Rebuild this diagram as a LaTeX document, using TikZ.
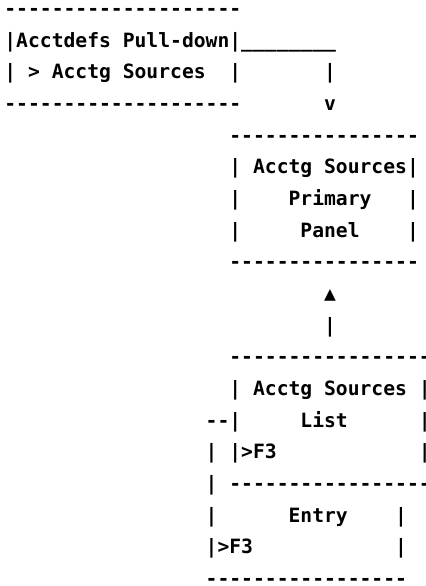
\documentclass[tikz,border=0pt]{standalone}
\usepackage{fontspec}
\setmonofont{DejaVu Sans Mono}
\tikzset{ascii/.style={anchor=base west, inner sep=0pt, font=\ttfamily\bfseries\fontsize{10pt}{12pt}\selectfont}}
\begin{document}
\begin{tikzpicture}[x=6.02pt, y=-16.1pt]
\useasboundingbox (-2.03pt,7.9pt) rectangle ++(216.1pt,-297.9pt);

\foreach \r/\c/\t [count=\i] in {
    0/0/{--------------------},
    1/0/{|Acctdefs Pull-down|}, 1/20/{\_\_\_\_\_\_\_\_},
    2/0/{| > Acctg Sources}, 2/19/{|}, 2/27/{|},
    3/0/{--------------------}, 3/27/{v},
    4/19/{----------------},
    5/19/{| Acctg Sources|},
    6/19/{|}, 6/24/{Primary}, 6/34/{|},
    7/19/{|}, 7/25/{Panel}, 7/34/{|},
    8/19/{----------------},
    9/27/{▲},
    10/27/{|},
    11/19/{-----------------},
    12/19/{| Acctg Sources |},
    13/17/{--|}, 13/25/{List}, 13/35/{|},
    14/17/{| |>F3}, 14/35/{|},
    15/17/{|}, 15/19/{-----------------},
    16/17/{|}, 16/24/{Entry}, 16/33/{|},
    17/17/{|>F3}, 17/33/{|},
    18/17/{-----------------}}
{
    \node[ascii] (seg\i) at (\c,\r) {\t};
}

\end{tikzpicture}
\end{document}
